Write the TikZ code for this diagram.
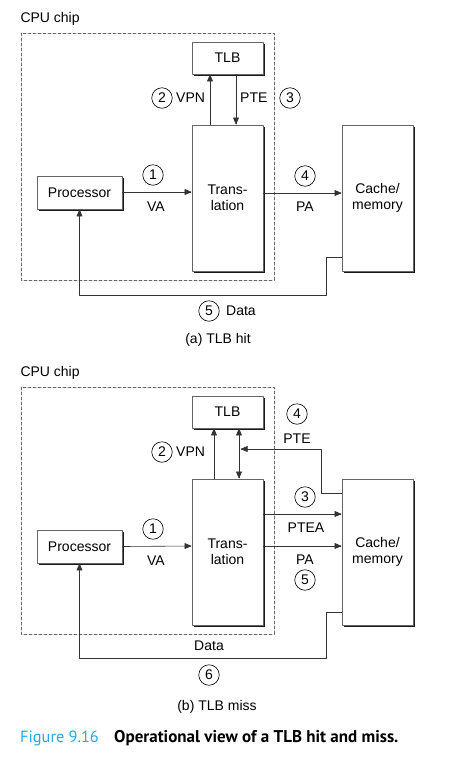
\documentclass[tikz,border=0pt]{standalone}
\usepackage{fontspec}
\setmainfont{Liberation Sans}
\newfontfamily\capfont{PT Sans}
\usetikzlibrary{arrows,shadows}
\definecolor{figcyan}{RGB}{38,168,228}
\tikzset{
	blockbox/.style={draw=black!60,line width=0.6pt,fill=white,inner sep=0pt,align=center,
		drop shadow={shadow xshift=2pt,shadow yshift=-2pt,fill=black!90,opacity=1}},
	stepnum/.style={draw=black,line width=0.6pt,circle,minimum size=20.5pt,inner sep=0pt},
	arr/.style={->,draw=black!80,line width=0.6pt},
	chipbox/.style={draw=black!60,line width=0.8pt,dash pattern=on 3pt off 2pt}
}

\begin{document}
\begin{tikzpicture}[line cap=round,line join=round,>=triangle 45,x=1pt,y=-1pt,font=\fontsize{14}{16}\selectfont]
		\useasboundingbox (0,0) rectangle (468,766);
		% (a) TLB hit
		\node[anchor=west] (chipA) at (17,19) {CPU chip};
		\draw[chipbox] (21,33) rectangle (274,280);
		\node[blockbox,minimum width=71pt,minimum height=32pt] (tlbA) at (227.5,58) {TLB};
		\node[blockbox,minimum width=71pt,minimum height=146pt] (transA) at (227.5,198) {Trans-\\lation};
		\node[blockbox,minimum width=85pt,minimum height=33pt] (procA) at (79.5,192.5) {Processor};
		\node[blockbox,minimum width=71pt,minimum height=146pt] (cacheA) at (377.5,198) {Cache/\\memory};
		\draw[arr] ([xshift=-17.5pt]transA.north) -- ([xshift=-17.5pt]tlbA.south);
		\draw[arr] ([xshift=8.5pt]tlbA.south) -- ([xshift=8.5pt]transA.north);
		\draw[arr] ([yshift=0.5pt]procA.east) -- ([yshift=6pt]transA.west);
		\draw[arr] ([yshift=5pt]transA.east) -- ([yshift=5pt]cacheA.west);
		\draw[arr] ([yshift=-59pt]cacheA.west) -| (326,295) -| (procA.south);
		\node[stepnum] (oneA) at (153,175) {1};
		\node (vaA) at (156,207) {VA};
		\node[stepnum] (twoA) at (162,98) {2};
		\node[anchor=west,inner sep=0pt] (vpnA) at (176,98) {VPN};
		\node[anchor=west,inner sep=0pt] (pteA) at (240,98) {PTE};
		\node[stepnum] (threeA) at (290,98) {3};
		\node[stepnum] (fourA) at (305,176) {4};
		\node (paA) at (305,207) {PA};
		\node[stepnum] (fiveA) at (209,311) {5};
		\node[anchor=west,inner sep=0pt] (dataA) at (226,311) {Data};
		\node (capA) at (218,340) {(a) TLB hit};
		% (b) TLB miss
		\node[anchor=west] (chipB) at (17,373) {CPU chip};
		\draw[chipbox] (21,387) rectangle (274,634);
		\node[blockbox,minimum width=71pt,minimum height=32pt] (tlbB) at (227.5,412) {TLB};
		\node[blockbox,minimum width=71pt,minimum height=146pt] (transB) at (227.5,552) {Trans-\\lation};
		\node[blockbox,minimum width=85pt,minimum height=33pt] (procB) at (79.5,546.5) {Processor};
		\node[blockbox,minimum width=71pt,minimum height=146pt] (cacheB) at (377.5,552) {Cache/\\memory};
		\coordinate (pteB) at (240.5,449);
		\draw[arr] ([xshift=-13.5pt]transB.north) -- ([xshift=-13.5pt]tlbB.south);
		\draw[arr,<->] ([xshift=11.5pt]tlbB.south) -- ([xshift=11.5pt]transB.north);
		\draw[arr] ([yshift=59pt]cacheB.west) -| (321,449) -- (pteB);
		\draw[arr] ([yshift=38pt]transB.east) -- ([yshift=38pt]cacheB.west);
		\draw[arr] ([yshift=6pt]transB.east) -- ([yshift=6pt]cacheB.west);
		\draw[arr] (procB.east) -- ([yshift=6pt]transB.west);
		\draw[arr] ([yshift=-60pt]cacheB.west) -| (326,658) -| (procB.south);
		\node[stepnum] (oneB) at (153,529) {1};
		\node (vaB) at (156,561) {VA};
		\node[stepnum] (twoB) at (162,452) {2};
		\node[anchor=west,inner sep=0pt] (vpnB) at (176,452) {VPN};
		\node[stepnum] (fourB) at (297,414) {4};
		\node (pteBt) at (297,439) {PTE};
		\node[stepnum] (threeB) at (305,497) {3};
		\node (pteaB) at (306,528) {PTEA};
		\node (paB) at (305,560) {PA};
		\node[stepnum] (fiveB) at (305,580) {5};
		\node (dataB) at (209,646) {Data};
		\node[stepnum] (sixB) at (209,675) {6};
		\node (capB) at (217,707) {(b) TLB miss};
		% figure caption
		\node[anchor=west,inner sep=0pt,font=\capfont\fontsize{16.3}{18}\selectfont,text=figcyan] (fig) at (20,738) {Figure 9.16};
		\node[anchor=west,inner sep=0pt,font=\capfont\bfseries\fontsize{17}{18}\selectfont] (figtext) at (114,738) {Operational view of a TLB hit and miss.};
	\end{tikzpicture}
\end{document}
